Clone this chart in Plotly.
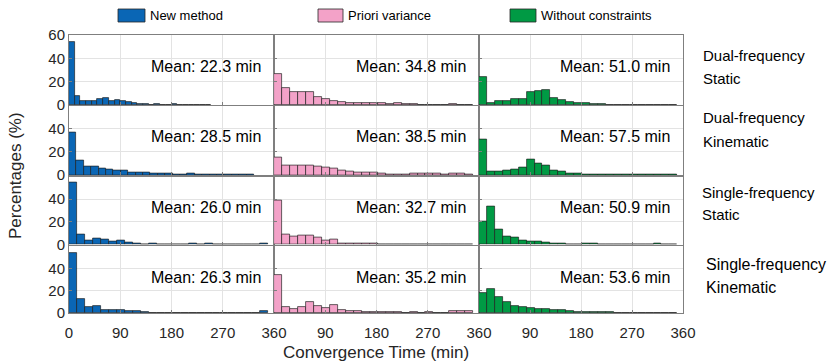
import plotly.graph_objects as go

# ---------------- data (percentage of runs per convergence-time bin) ----------------
methods = ["New method", "Priori variance", "Without constraints"]
scenario_lines = [("Dual-frequency", "Static"), ("Dual-frequency", "Kinematic"),
                  ("Single-frequency", "Static"), ("Single-frequency", "Kinematic")]

# bin widths (min) of each method's histogram
bin_width_new = [10, 13, 14, 14]
bin_width_priori = 14
bin_width_free = 14

new_dual_static = [54, 8, 3.5, 3.5, 3.5, 5, 6, 3.7, 4.3, 3.5, 3, 1.4, 0.9, 0.5, 0.3, 0.5, 0.3, 0.2,
                   0.5, 0.2, 0.3, 0, 0, 0.3, 0.2]
new_dual_kinematic = [37, 12.4, 7.6, 7.6, 5.6, 4.4, 3.5, 3.5, 2.4, 1.8, 1.8, 1.2, 1.2, 0.9, 0.6,
                      0.3, 0.9, 0.6, 0.3, 0.3, 0.3, 0.3, 0.3, 0.3, 0.3]
new_single_static = [55, 8.5, 3.9, 5.2, 4.5, 3, 3.6, 1.5, 0.6, 0.3, 0.6, 0.3, 0.3, 0.3, 0.3, 0.6,
                     0.3, 0.6, 0.3, 0.2, 0.2, 0.2, 0.2, 0.2, 0.6]
new_single_kinematic = [54, 12.1, 5.2, 6.7, 2.4, 3, 3, 2.1, 1.5, 0.6, 0.3, 0.3, 0.3, 0.2, 0.3, 0.2,
                        0.3, 0.2, 0.3, 0.2, 0.2, 0.2, 0.2, 0.2, 2.1]

priori_dual_static = [26.3, 14.3, 11.4, 10.9, 10.9, 7.1, 5.1, 3.4, 2.3, 1.7, 1.7, 1.4, 1.4, 1.7,
                      1.1, 1.7, 0.9, 1.1, 0.3, 0.2, 0.2, 0.2, 0.9, 0.2, 0.2]
priori_dual_kinematic = [15.3, 7.9, 7.9, 8.5, 7.9, 7.4, 6.5, 5.6, 4.1, 2.9, 1.8, 1.8, 1.8, 0.9,
                         0.6, 0.1, 0.6, 0.9, 0.9, 1.5, 0.9, 0.3, 1.2, 1.5, 0.2]
priori_single_static = [38.5, 9.1, 7, 7.6, 8.2, 6, 3.9, 4.5, 1.2, 0.6, 1.2, 0.6, 0.6, 0.3, 0.3,
                        0.3, 0.3, 0.3, 0.3, 0.3, 0.3, 0.3, 0.3, 0.3, 0.3]
priori_single_kinematic = [34.2, 5.2, 3.6, 5.5, 10, 6.7, 4.5, 7, 3, 2.1, 1.8, 0.6, 0.9, 0.9, 0.6,
                           0.6, 0.3, 0.9, 0.3, 1.2, 0.3, 0.3, 1.8, 1.5, 1.8]

free_dual_static = [24.3, 1.4, 3.4, 3.4, 5.1, 5.1, 11.4, 12.3, 12.9, 5.7, 4.3, 2.3, 1.4, 1.4,
                    0.9, 0.6, 0.3, 0.2, 0.2, 0.3, 0.2, 0.2, 0.2, 0.2, 0.3]
free_dual_kinematic = [30.6, 2.6, 2.9, 3.5, 5, 6.8, 13.2, 10.3, 7.9, 4.1, 2.6, 0.9, 1.5, 0.6,
                       0.6, 0.6, 0.2, 0.2, 0.3, 0.2, 0.2, 0.2, 0.2, 0.2, 0.2]
free_single_static = [20.6, 33.3, 13.6, 7.3, 6, 3.6, 3, 3, 1.5, 0.6, 0.6, 0.3, 0.2, 0.6, 0.6,
                      0.2, 0.2, 0.2, 0.2, 0.2, 0.2, 0.2, 0.9, 0.2, 0.2]
free_single_kinematic = [18.2, 21.8, 14.2, 10, 6.7, 5.5, 4.5, 3.6, 3.6, 3, 3, 1.8, 0.9, 1.2, 0.6,
                         0.6, 1.2, 0.2, 0.3, 0.2, 0.2, 0.2, 0.2, 0.2, 0.2]

mean_new = [22.3, 28.5, 26.0, 26.3]
mean_priori = [34.8, 38.5, 32.7, 35.2]
mean_free = [51.0, 57.5, 50.9, 53.6]

x_ticks = [0, 90, 180, 270, 360]
y_ticks = [0, 20, 40, 60]

colors = ["#0A66B5", "#F3A2C8", "#009A44"]
edge_color = "rgba(30,30,30,0.85)"

panels = [
    [new_dual_static, priori_dual_static, free_dual_static],
    [new_dual_kinematic, priori_dual_kinematic, free_dual_kinematic],
    [new_single_static, priori_single_static, free_single_static],
    [new_single_kinematic, priori_single_kinematic, free_single_kinematic],
]
means = [[mean_new[r], mean_priori[r], mean_free[r]] for r in range(4)]
widths = [[bin_width_new[r], bin_width_priori, bin_width_free] for r in range(4)]

# ---------------- layout geometry (pixels) ----------------
W, H = 835, 364
ML, MR, MT, MB = 69, 152, 35, 51
PW, PH = W - ML - MR, H - MT - MB
col_px = [(69, 274), (274, 479), (479, 683)]
row_px = [(35, 105), (105.5, 175), (176.5, 244.5), (246, 313)]


def px_x(x):
    return (x - ML) / PW


def px_y(y):
    return 1 - (y - MT) / PH


FONT = "Liberation Sans, Arial, sans-serif"
TXT = "#262626"

fig = go.Figure()
layout = dict()
annotations = []
shapes = []

for r in range(4):
    for c in range(3):
        k = r * 3 + c + 1
        xa = "x" if k == 1 else f"x{k}"
        ya = "y" if k == 1 else f"y{k}"
        vals = panels[r][c]
        w = widths[r][c]
        centers = [w * i + w / 2 for i in range(len(vals))]
        fig.add_trace(go.Bar(
            x=centers, y=vals, width=w, xaxis=xa, yaxis=ya,
            marker=dict(color=colors[c], line=dict(color=edge_color, width=0.8)),
            showlegend=False, hoverinfo="x+y"))

        bottom = r == 3
        xt = x_ticks if c == 0 else x_ticks[1:]
        layout["xaxis" + ("" if k == 1 else str(k))] = dict(
            domain=[px_x(col_px[c][0]), px_x(col_px[c][1])],
            range=[0, 360], anchor=ya, tickmode="array", tickvals=xt,
            ticktext=[str(v) for v in xt], showticklabels=bottom,
            ticks="inside", ticklen=3, tickcolor="#7f7f7f", ticklabelstandoff=6,
            showgrid=True, gridcolor="#e3e3e3", gridwidth=1,
            showline=True, linecolor="#7f7f7f", linewidth=1, mirror=True,
            zeroline=False, tickfont=dict(family=FONT, size=15, color=TXT))
        yt = y_ticks if r == 0 else y_ticks[:3]
        layout["yaxis" + ("" if k == 1 else str(k))] = dict(
            domain=[px_y(row_px[r][1]), px_y(row_px[r][0])],
            range=[0, 60], anchor=xa, tickmode="array", tickvals=yt,
            showticklabels=(c == 0),
            ticks="inside", ticklen=3, tickcolor="#7f7f7f",
            showgrid=True, gridcolor="#e3e3e3", gridwidth=1,
            showline=True, linecolor="#7f7f7f", linewidth=1, mirror=True,
            zeroline=False, tickfont=dict(family=FONT, size=15, color=TXT))

        annotations.append(dict(
            x=px_x(col_px[c][1] - 11), y=px_y(row_px[r][0] + 31),
            xref="paper", yref="paper", xanchor="right", yanchor="middle",
            text=f"Mean: {means[r][c]:.1f} min", showarrow=False,
            font=dict(family=FONT, size=16, color="black")))

# scenario labels on the right (two lines each)
label_pos = [(701, 55, 78, 15), (701, 118, 141, 15),
             (700, 192, 214, 15), (704, 264, 287, 16)]
for r, (lx, y1, y2, fs) in enumerate(label_pos):
    for text, ly in zip(scenario_lines[r], (y1, y2)):
        annotations.append(dict(
            x=px_x(lx), y=px_y(ly), xref="paper", yref="paper",
            xanchor="left", yanchor="middle", align="left",
            text=text, showarrow=False,
            font=dict(family=FONT, size=fs, color="black")))

# legend row at the top
legend_items = [(118, 145, 148), (318, 343, 346), (510, 536, 539)]
for i, (x0, x1, tx) in enumerate(legend_items):
    shapes.append(dict(type="rect", xref="paper", yref="paper",
                       x0=px_x(x0), x1=px_x(x1), y0=px_y(22), y1=px_y(9),
                       fillcolor=colors[i], line=dict(color="#262626", width=0.8)))
    annotations.append(dict(
        x=px_x(tx), y=px_y(15.5), xref="paper", yref="paper",
        xanchor="left", yanchor="middle", text=methods[i], showarrow=False,
        font=dict(family=FONT, size=13, color="black")))

# axis titles
annotations.append(dict(
    x=px_x(376), y=px_y(352), xref="paper", yref="paper",
    xanchor="center", yanchor="middle", text="Convergence Time (min)",
    showarrow=False, font=dict(family=FONT, size=17, color=TXT)))
annotations.append(dict(
    x=px_x(15), y=px_y(176), xref="paper", yref="paper",
    xanchor="center", yanchor="middle", text="Percentages (%)", textangle=-90,
    showarrow=False, font=dict(family=FONT, size=17, color=TXT)))

fig.update_layout(
    width=W, height=H, margin=dict(l=ML, r=MR, t=MT, b=MB),
    paper_bgcolor="white", plot_bgcolor="white",
    annotations=annotations, shapes=shapes, showlegend=False,
    bargap=0, **layout)

fig.write_html("out.html")
